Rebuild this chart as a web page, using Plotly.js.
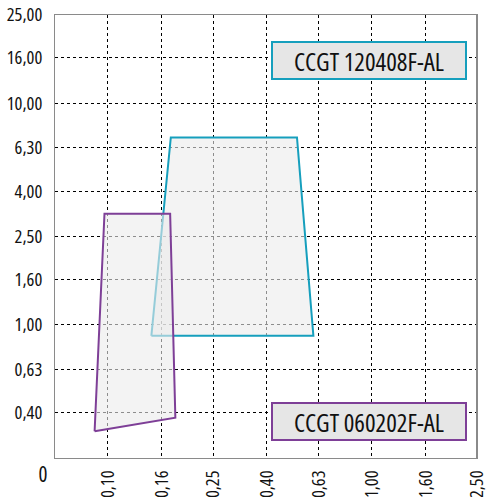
<!DOCTYPE html>
<html>
<head>
<meta charset="utf-8">
<script src="https://cdn.plot.ly/plotly-3.0.1.min.js"></script>
<style>
html,body{margin:0;padding:0;background:#fff;}
#chart{width:494px;height:497px;}
#chart text{font-stretch:75% !important;}
</style>
</head>
<body>
<div id="chart"></div>
<script>
// Tick values and labels
var xTickVals = [0.10, 0.16, 0.25, 0.40, 0.63, 1.00, 1.60, 2.50];
var xTickText = ['0,10', '0,16', '0,25', '0,40', '0,63', '1,00', '1,60', '2,50'];
var yTickVals = [0.40, 0.63, 1.00, 1.60, 2.50, 4.00, 6.30, 10.00, 16.00, 25.00];
var yTickText = ['0,40', '0,63', '1,00', '1,60', '2,50', '4,00', '6,30', '10,00', '16,00', '25,00'];

// Application area polygons (closed)
var ccgt120408X = [0.146, 0.173, 0.52, 0.60, 0.146];
var ccgt120408Y = [0.89, 7.0, 7.0, 0.89, 0.89];
var ccgt060202X = [0.089, 0.097, 0.172, 0.180, 0.089];
var ccgt060202Y = [0.33, 3.17, 3.17, 0.38, 0.33];

var names = ['CCGT 120408F-AL', 'CCGT 060202F-AL'];

var FONT = 'Open Sans, Roboto, sans-serif';
var TEAL = '#169fbd';
var PURPLE = '#7e3f97';

var traces = [
  {x: ccgt120408X, y: ccgt120408Y, mode: 'lines', fill: 'toself',
   fillcolor: 'rgba(235,235,235,0.6)', line: {color: TEAL, width: 2}, hoverinfo: 'skip', name: names[0]},
  {x: ccgt060202X, y: ccgt060202Y, mode: 'lines', fill: 'toself',
   fillcolor: 'rgba(235,235,235,0.6)', line: {color: PURPLE, width: 2}, hoverinfo: 'skip', name: names[1]}
];

var axisCommon = {
  showline: true, linecolor: '#8a8a8a', linewidth: 1, mirror: true,
  showgrid: true, gridcolor: '#000', gridwidth: 1, griddash: 'dot',
  zeroline: false, ticks: '', tickfont: {family: FONT, size: 18.5, color: '#111', weight: 500}
};

var layout = {
  width: 494, height: 497,
  margin: {l: 55, r: 17, t: 15, b: 39},
  paper_bgcolor: '#fff', plot_bgcolor: '#fff',
  showlegend: false,
  xaxis: Object.assign({}, axisCommon, {
    type: 'log', range: [Math.log10(0.063), Math.log10(2.5)],
    tickmode: 'array', tickvals: xTickVals, ticktext: xTickText,
    tickangle: -90, ticklabelstandoff: 4
  }),
  yaxis: Object.assign({}, axisCommon, {
    type: 'log', range: [Math.log10(0.25), Math.log10(25)],
    tickmode: 'array', tickvals: yTickVals, ticktext: yTickText,
    ticklabelstandoff: 8
  }),
  shapes: [
    {type: 'line', xref: 'paper', yref: 'paper', x0: 1, x1: 1, y0: 0, y1: 1,
     line: {color: '#8a8a8a', width: 2}}
  ],
  annotations: [
    {xref: 'paper', yref: 'paper', x: 0.744, y: 0.898, text: names[0], showarrow: false,
     font: {family: FONT, size: 25, color: '#111'}, bgcolor: '#e6e6e6',
     bordercolor: TEAL, borderwidth: 2, borderpad: 0, width: 192, height: 35,
     xanchor: 'center', yanchor: 'middle'},
    {xref: 'paper', yref: 'paper', x: 0.744, y: 0.0835, text: names[1], showarrow: false,
     font: {family: FONT, size: 25, color: '#111'}, bgcolor: '#e6e6e6',
     bordercolor: PURPLE, borderwidth: 2, borderpad: 0, width: 192, height: 35,
     xanchor: 'center', yanchor: 'middle'},
    {xref: 'paper', yref: 'paper', x: -0.01, y: 0.0, text: '0', showarrow: false,
     font: {family: FONT, size: 21, color: '#111', weight: 500}, xanchor: 'right', yanchor: 'top'}
  ]
};

Plotly.newPlot('chart', traces, layout, {displayModeBar: false, staticPlot: true});
</script>
</body>
</html>
